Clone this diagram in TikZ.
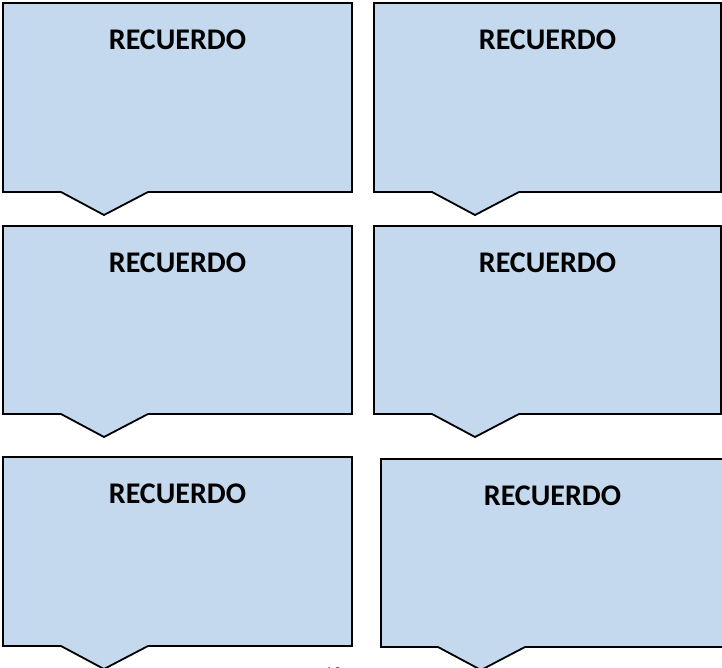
\documentclass[tikz,border=0pt]{standalone}
\usepackage{fontspec}
\setmainfont{Carlito}
\usepackage{tikz}
\definecolor{notefill}{RGB}{196,217,237}
\tikzset{
  note/.style={draw=black,fill=notefill,line width=1.8pt,line join=miter},
  notetitle/.style={font=\bfseries\fontsize{30}{36}\selectfont,anchor=base}
}

\begin{document}
\begin{tikzpicture}[x=1pt,y=-1pt]
  \useasboundingbox (0,0) rectangle (722,667);
  % six callouts: left/top/right/bottom/pointer start
  \foreach \l/\t/\r/\b/\p [count=\n] in {3/3/352/192/61, 374/3/721/192/432, 3/226/352/414/61, 374/226/721/414/432, 3/457/352/646/61, 381/459/724/647/438}{
    \draw[note] (\l,\t) -- (\r,\t) -- (\r,\b) -- (\p+87,\b) -- (\p+43,\b+23) -- (\p,\b) -- (\l,\b) -- cycle;
    \node[notetitle] (title\n) at ({(\l+\r)/2},\t+46) {RECUERDO};
  }
  \node[anchor=north,font=\fontsize{18}{20}\selectfont] (pagenum) at (333,664) {10};
\end{tikzpicture}
\end{document}
